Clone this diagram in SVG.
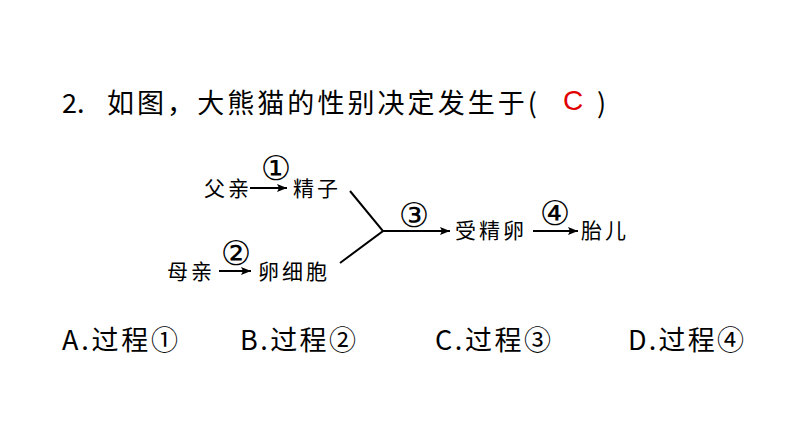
<svg xmlns="http://www.w3.org/2000/svg" width="794" height="447" viewBox="0 0 794 447">
<style>
.t{font-family:"Noto Sans CJK SC",sans-serif;font-size:27px;fill:#000}
.d{font-family:"Noto Sans CJK SC",serif;font-size:21px;fill:#000;letter-spacing:3px}
.n{font-family:"DejaVu Sans",sans-serif;font-size:34px;fill:#000;text-anchor:middle}
.l{stroke:#000;stroke-width:2;fill:none}
</style>
<defs>
<marker id="b" viewBox="0 0 10 10" refX="10" refY="5" markerWidth="13" markerHeight="10" orient="auto" markerUnits="userSpaceOnUse"><path d="M0,1 L10,5 L0,9 L2,5 Z" fill="#000"/></marker></defs>
<text class="t" x="62" y="113">2.</text>
<text class="t" x="107" y="113" textLength="430" lengthAdjust="spacing">如图，大熊猫的性别决定发生于(</text>
<text x="563" y="110" style="font-family:'Liberation Sans',sans-serif;font-size:28px;fill:#e00000">C</text>
<text class="t" x="597" y="113">)</text>
<g id="father"><text class="d" x="204" y="196">父亲</text></g>
<g id="sperm"><text class="d" x="293" y="196">精子</text></g>
<g id="mother"><text class="d" x="167" y="279">母亲</text></g>
<g id="egg"><text class="d" x="258" y="279">卵细胞</text></g>
<g id="zygote"><text class="d" x="455" y="238">受精卵</text></g>
<g id="fetus"><text class="d" x="581" y="238">胎儿</text></g>
<g id="connectors">
<line class="l" x1="250" y1="188" x2="287" y2="188" marker-end="url(#b)"/>
<line class="l" x1="219" y1="271" x2="251" y2="271" marker-end="url(#b)"/>
<polyline class="l" points="350,191 383,231 340,263"/>
<line class="l" x1="383" y1="231" x2="450" y2="231" marker-end="url(#b)"/>
<line class="l" x1="533" y1="231" x2="578" y2="231" marker-end="url(#b)"/>
<text class="n" x="276" y="180">①</text>
<text class="n" x="236" y="265">②</text>
<text class="n" x="414" y="227">③</text>
<text class="n" x="555" y="225">④</text>
</g>
<text class="t" x="62" y="350" textLength="116">A.过程①</text>
<text class="t" x="240" y="350" textLength="116">B.过程②</text>
<text class="t" x="435" y="350" textLength="116">C.过程③</text>
<text class="t" x="628" y="350" textLength="116">D.过程④</text>
</svg>
